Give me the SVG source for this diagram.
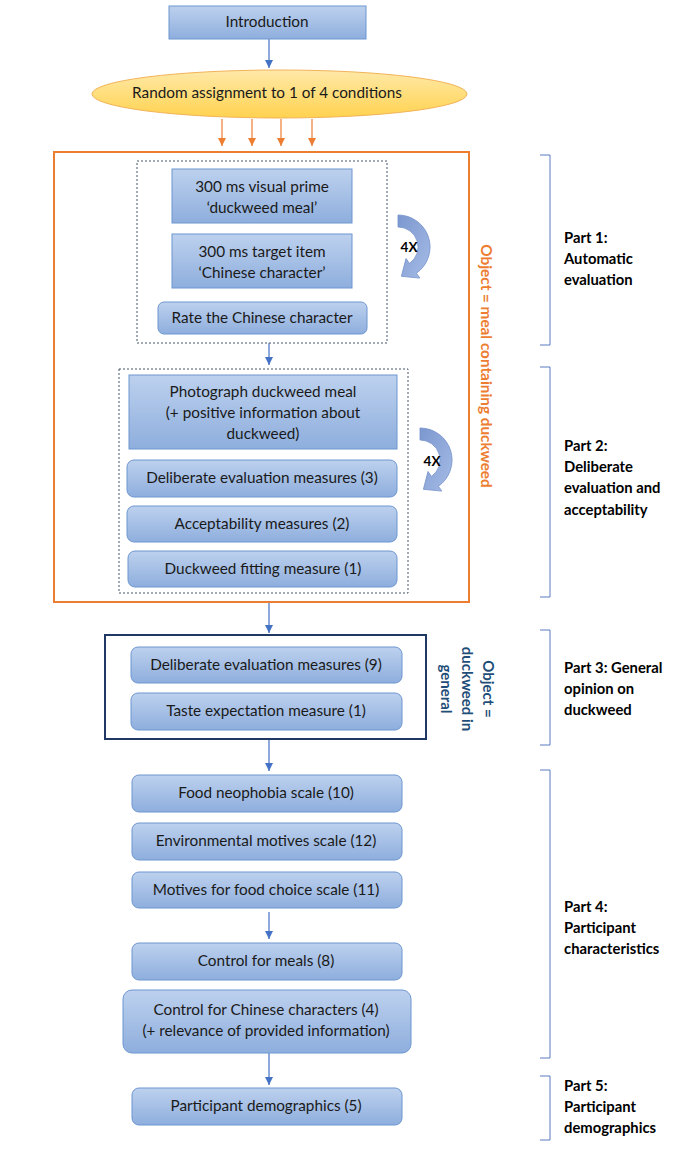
<svg xmlns="http://www.w3.org/2000/svg" width="690" height="1156" viewBox="0 0 690 1156">
<defs>
<linearGradient id="gBox" x1="0" y1="0" x2="0" y2="1">
<stop offset="0" stop-color="#BDD1EE"/>
<stop offset="1" stop-color="#8EAEDD"/>
</linearGradient>
<linearGradient id="gEll" x1="0" y1="0" x2="0" y2="1">
<stop offset="0" stop-color="#FFE9A8"/>
<stop offset="1" stop-color="#FFD24F"/>
</linearGradient>
<linearGradient id="gCurve" x1="0" y1="0" x2="1" y2="1">
<stop offset="0" stop-color="#7B97CF"/>
<stop offset="1" stop-color="#A6BCE6"/>
</linearGradient>
<marker id="aBlue" viewBox="0 0 10 10" refX="10" refY="5" markerWidth="8" markerHeight="8" markerUnits="userSpaceOnUse" orient="auto">
<path d="M0,0 L10,5 L0,10 Z" fill="#4472C4"/>
</marker>
<marker id="aOrange" viewBox="0 0 10 10" refX="10" refY="5" markerWidth="8" markerHeight="8" markerUnits="userSpaceOnUse" orient="auto">
<path d="M0,0 L10,5 L0,10 Z" fill="#ED7D31"/>
</marker>
</defs>
<style>
.box{fill:url(#gBox);stroke:#6D96D0;stroke-width:1}
.t{font-family:Lato,"Liberation Sans",sans-serif;font-size:15.3px;fill:#1A1A1A;text-anchor:middle}
.b{font-family:Lato,"Liberation Sans",sans-serif;font-size:14.8px;font-weight:bold;fill:#000}
.dash{fill:none;stroke:#44546A;stroke-width:1;stroke-dasharray:2,2}
.br{fill:none;stroke:#5B7BC0;stroke-width:1}
.cb{stroke:#4472C4;stroke-width:1.2;fill:none;marker-end:url(#aBlue)}
.co{stroke:#ED7D31;stroke-width:1.2;fill:none;marker-end:url(#aOrange)}
.curve{fill:url(#gCurve);stroke:#7390CA;stroke-width:0.8}
</style>

<g id="connectors">
<line class="cb" x1="269" y1="39" x2="269" y2="68"/>
<line class="co" x1="222" y1="119" x2="222" y2="146"/>
<line class="co" x1="252" y1="119" x2="252" y2="146"/>
<line class="co" x1="281" y1="119" x2="281" y2="146"/>
<line class="co" x1="312" y1="119" x2="312" y2="146"/>
<line class="cb" x1="269" y1="343" x2="269" y2="365"/>
<line class="cb" x1="269" y1="602" x2="269" y2="633"/>
<line class="cb" x1="269" y1="740" x2="269" y2="771"/>
<line class="cb" x1="269" y1="912" x2="269" y2="939"/>
<line class="cb" x1="269" y1="1053" x2="269" y2="1085"/>
</g>

<g id="introduction">
<rect class="box" x="169" y="6" width="197" height="33"/>
<text class="t" x="267" y="27">Introduction</text>
</g>

<g id="random-assignment">
<ellipse cx="279.5" cy="94" rx="187.5" ry="24" fill="url(#gEll)" stroke="#F2B35A" stroke-width="1"/>
<text class="t" x="267" y="98">Random assignment to 1 of 4 conditions</text>
</g>

<g id="object-meal-frame">
<rect x="54" y="152" width="415" height="450" fill="none" stroke="#ED7D31" stroke-width="2"/>
<text transform="translate(481,366) rotate(90)" font-family="Lato,'Liberation Sans',sans-serif" font-size="15.3" font-weight="bold" fill="#ED7D31" text-anchor="middle">Object = meal containing duckweed</text>
</g>

<g id="part1-group">
<rect class="dash" x="137" y="161" width="250" height="182"/>
</g>

<g id="visual-prime">
<rect class="box" x="172" y="169" width="180" height="54"/>
<text class="t" x="262" y="192">300 ms visual prime</text>
<text class="t" x="262" y="213">‘duckweed meal’</text>
</g>

<g id="target-item">
<rect class="box" x="172" y="234" width="180" height="54"/>
<text class="t" x="262" y="257">300 ms target item</text>
<text class="t" x="262" y="278">‘Chinese character’</text>
</g>

<g id="rate-character">
<rect class="box" x="158" y="302" width="209" height="32" rx="6"/>
<text class="t" x="262" y="323">Rate the Chinese character</text>
</g>

<g id="loop1">
<path class="curve" d="M398,215 A32,32 0 0 1 416.4,273.2 L419.8,278.1 L401.4,276.3 L406,258.5 L409.5,263.4 A20,20 0 0 0 398,227 Z"/>
<text x="409" y="252" font-family="Lato,'Liberation Sans',sans-serif" font-size="13.5" font-weight="bold" fill="#000" text-anchor="middle">4X</text>
</g>

<g id="part2-group">
<rect class="dash" x="119" y="369" width="289" height="224"/>
</g>

<g id="photograph">
<rect class="box" x="129" y="375" width="268" height="74"/>
<text class="t" x="263" y="397">Photograph duckweed meal</text>
<text class="t" x="263" y="418">(+ positive information about</text>
<text class="t" x="263" y="439">duckweed)</text>
</g>

<g id="deliberate3">
<rect class="box" x="127" y="460" width="270" height="37" rx="7"/>
<text class="t" x="262" y="483">Deliberate evaluation measures (3)</text>
</g>

<g id="acceptability">
<rect class="box" x="127" y="506" width="270" height="36" rx="7"/>
<text class="t" x="262" y="529">Acceptability measures (2)</text>
</g>

<g id="duckweed-fitting">
<rect class="box" x="128" y="551" width="269" height="36" rx="7"/>
<text class="t" x="263" y="574">Duckweed fitting measure (1)</text>
</g>

<g id="loop2">
<path class="curve" transform="translate(22,213)" d="M398,215 A32,32 0 0 1 416.4,273.2 L419.8,278.1 L401.4,276.3 L406,258.5 L409.5,263.4 A20,20 0 0 0 398,227 Z"/>
<text x="432" y="466" font-family="Lato,'Liberation Sans',sans-serif" font-size="13.5" font-weight="bold" fill="#000" text-anchor="middle">4X</text>
</g>

<g id="object-general-frame">
<rect x="105" y="635" width="321" height="104" fill="none" stroke="#203864" stroke-width="2"/>
<g font-family="Lato,'Liberation Sans',sans-serif" font-size="15" font-weight="bold" fill="#1F4E79" text-anchor="middle">
<text transform="translate(483,689) rotate(90)">Object =</text>
<text transform="translate(462,689) rotate(90)">duckweed in</text>
<text transform="translate(441,689) rotate(90)">general</text>
</g>
</g>

<g id="deliberate9">
<rect class="box" x="131" y="647" width="271" height="36" rx="7"/>
<text class="t" x="266" y="670">Deliberate evaluation measures (9)</text>
</g>

<g id="taste">
<rect class="box" x="131" y="693" width="271" height="37" rx="7"/>
<text class="t" x="266" y="716">Taste expectation measure (1)</text>
</g>

<g id="food-neophobia">
<rect class="box" x="132" y="775" width="270" height="37" rx="7"/>
<text class="t" x="266" y="798">Food neophobia scale (10)</text>
</g>

<g id="environmental">
<rect class="box" x="132" y="823" width="270" height="37" rx="7"/>
<text class="t" x="266" y="846">Environmental motives scale (12)</text>
</g>

<g id="motives">
<rect class="box" x="132" y="872" width="270" height="36" rx="7"/>
<text class="t" x="266" y="895">Motives for food choice scale (11)</text>
</g>

<g id="control-meals">
<rect class="box" x="132" y="943" width="270" height="37" rx="7"/>
<text class="t" x="266" y="966">Control for meals (8)</text>
</g>

<g id="control-chinese">
<rect class="box" x="123" y="990" width="288" height="63" rx="9"/>
<text class="t" x="266" y="1015">Control for Chinese characters (4)</text>
<text class="t" x="266" y="1036">(+ relevance of provided information)</text>
</g>

<g id="demographics">
<rect class="box" x="132" y="1088" width="270" height="37" rx="7"/>
<text class="t" x="266" y="1111">Participant demographics (5)</text>
</g>

<g id="part1-label">
<path class="br" d="M540,155 H550 V345 H540"/>
<text class="b" x="564" y="243">Part 1:</text>
<text class="b" x="564" y="264">Automatic</text>
<text class="b" x="564" y="285">evaluation</text>
</g>

<g id="part2-label">
<path class="br" d="M540,367 H550 V597 H540"/>
<text class="b" x="564" y="451">Part 2:</text>
<text class="b" x="564" y="472">Deliberate</text>
<text class="b" x="564" y="493">evaluation and</text>
<text class="b" x="564" y="515">acceptability</text>
</g>

<g id="part3-label">
<path class="br" d="M540,630 H550 V745 H540"/>
<text class="b" x="564" y="673">Part 3: General</text>
<text class="b" x="564" y="694">opinion on</text>
<text class="b" x="564" y="715">duckweed</text>
</g>

<g id="part4-label">
<path class="br" d="M540,770 H550 V1058 H540"/>
<text class="b" x="564" y="912">Part 4:</text>
<text class="b" x="564" y="933">Participant</text>
<text class="b" x="564" y="954">characteristics</text>
</g>

<g id="part5-label">
<path class="br" d="M540,1076 H550 V1140 H540"/>
<text class="b" x="564" y="1091">Part 5:</text>
<text class="b" x="564" y="1112">Participant</text>
<text class="b" x="564" y="1133">demographics</text>
</g>
</svg>
